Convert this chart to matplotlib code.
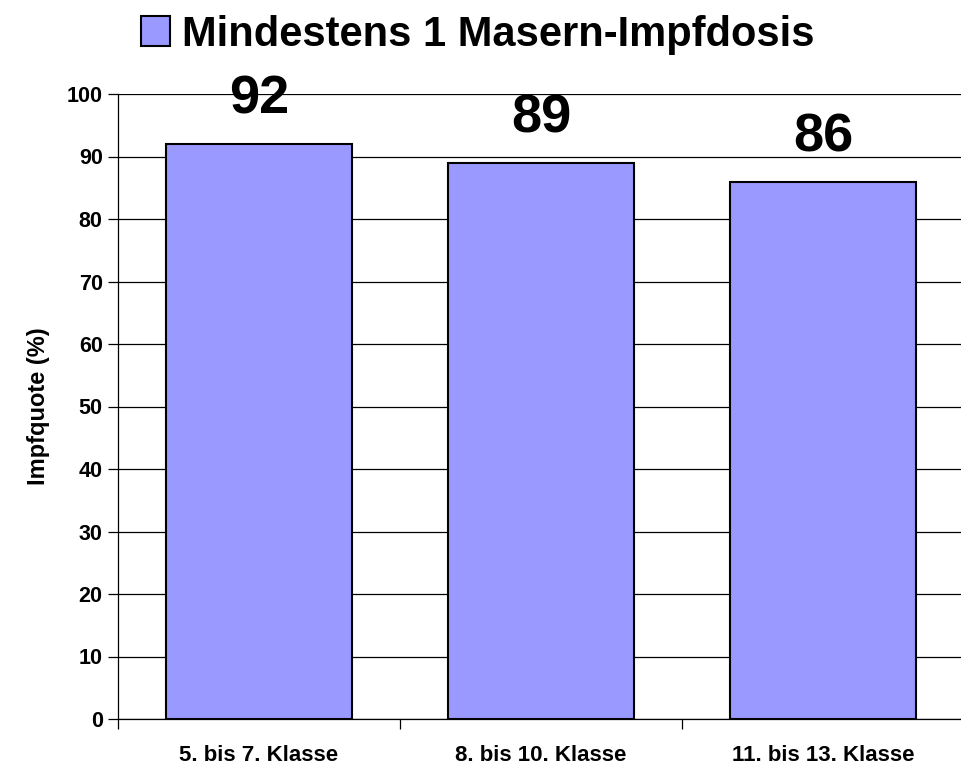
import numpy as np
import matplotlib.pyplot as plt
from matplotlib.patches import Patch

plt.rcParams['font.family'] = ['Liberation Sans', 'DejaVu Sans']
plt.rcParams['font.weight'] = 'bold'

categories = ['5. bis 7. Klasse', '8. bis 10. Klasse', '11. bis 13. Klasse']
values = [92, 89, 86]
series_name = 'Mindestens 1 Masern-Impfdosis'
bar_color = '#9999FF'

fig = plt.figure(figsize=(9.61, 7.65), dpi=100)
ax = fig.add_axes([118/961, 1 - 719/765, 846/961, (719 - 94)/765])

x = np.arange(len(categories))
bars = ax.bar(x, values, width=0.66, color=bar_color, edgecolor='black', linewidth=1.5, zorder=3)

for xi, v in zip(x, values):
    ax.annotate(str(v), (xi, v), xytext=(0, 14), textcoords='offset points',
                ha='center', va='bottom', fontsize=39, fontweight='bold', zorder=4)

ax.set_xlim(-0.5, len(categories) - 0.5)
ax.set_ylim(0, 100)
ax.set_yticks(np.arange(0, 101, 10))
ax.yaxis.grid(True, color='black', linewidth=0.9, zorder=0)
ax.tick_params(axis='y', labelsize=15.5, length=7, width=0.9, pad=4)

ax.set_xticks(np.arange(-0.5, len(categories), 1.0))
ax.set_xticklabels([])
ax.set_xticks(x, minor=True)
ax.set_xticklabels(categories, minor=True, fontsize=16, fontweight='bold')
ax.tick_params(axis='x', which='major', length=7, width=0.9)
ax.tick_params(axis='x', which='minor', length=0, pad=19)

for s in ['top', 'right']:
    ax.spines[s].set_visible(False)
ax.spines['left'].set_linewidth(0.9)
ax.spines['bottom'].set_linewidth(0.9)

ax.set_ylabel('Impfquote (%)', fontsize=17, fontweight='bold', labelpad=12)

handle = Patch(facecolor=bar_color, edgecolor='black', linewidth=1.5)
fig.legend([handle], [series_name], loc='upper center', bbox_to_anchor=(0.497, 1.03),
           frameon=False, prop={'size': 30, 'weight': 'bold'},
           handlelength=0.7, handleheight=0.7, handletextpad=0.3)

fig.savefig('out.png', dpi=100)
